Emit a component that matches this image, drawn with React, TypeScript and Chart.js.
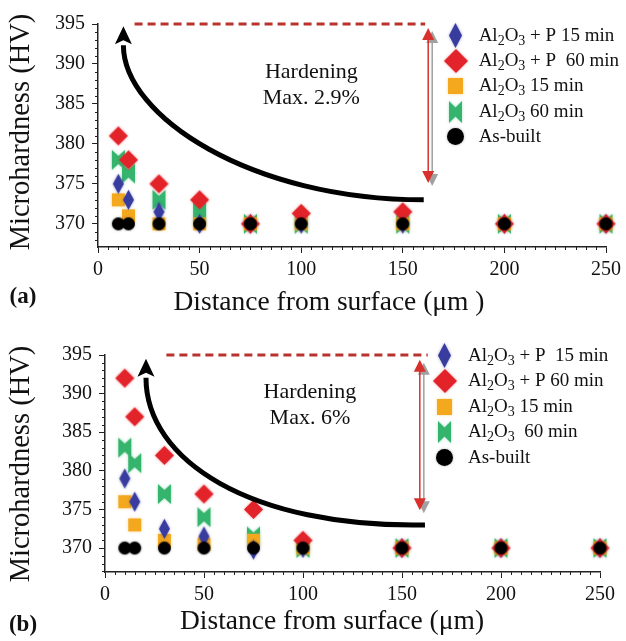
import React, { useEffect, useRef } from "react";
import { Chart, registerables } from "chart.js";

Chart.register(...registerables);

const FONT = '"Liberation Serif", "Times New Roman", serif';

// ---------- data ----------
const distances = [10, 15, 30, 50, 75, 100, 150, 200, 250];
const xTickValues = [0, 50, 100, 150, 200, 250];
const yTickValues = [370, 375, 380, 385, 390, 395];

// panel (a)
const aP15 = [375, 373, 371.5, 370, 370, 370, 370, 370, 370];
const aP60 = [381, 378, 375, 373, 370, 371.3, 371.5, 370, 370];
const a15 = [373, 371, 370, 370, 370, 370, 370, 370, 370];
const a60 = [378, 376.3, 373, 371.5, 370, 370, 370, 370, 370];
const aBuilt = [370, 370, 370, 370, 370, 370, 370, 370, 370];

// panel (b)
const bP15 = [379, 376, 372.5, 371.5, 369.8, 370, 370, 370, 370];
const bP60 = [392, 387, 382, 377, 375, 371, 370, 370, 370];
const b15 = [376, 373, 371, 370.5, 371, 370, 370, 370, 370];
const b60 = [383, 381, 377, 374, 371.5, 370, 370, 370, 370];
const bBuilt = [370, 370, 370, 370, 370, 370, 370, 370, 370];

// legend labels ("_" marks a subscript character)
const legendA = ["Al_2O_3 + P 15 min", "Al_2O_3 + P  60 min", "Al_2O_3 15 min", "Al_2O_3 60 min", "As-built"];
const legendB = ["Al_2O_3 + P  15 min", "Al_2O_3 + P 60 min", "Al_2O_3 15 min", "Al_2O_3  60 min", "As-built"];

const yTitle = "Microhardness (HV)";
const xTitleA = "Distance from surface (\u03bcm )";
const xTitleB = "Distance from surface (\u03bcm)";
const noteA = ["Hardening", "Max. 2.9%"];
const noteB = ["Hardening", "Max. 6%"];

// ---------- styles ----------
const COLORS = {
  blue: "#373c9e",
  red: "#e2232a",
  orange: "#f4a81e",
  green: "#34b46c",
  black: "#000000",
};
const GLOW = {
  blue: "rgba(55,60,158,0.45)",
  red: "rgba(226,35,42,0.45)",
  orange: "rgba(244,168,30,0.45)",
  green: "rgba(52,180,108,0.45)",
  black: "rgba(0,0,0,0.3)",
};

type Kind = "blue" | "red" | "orange" | "green" | "black";
const kinds: Kind[] = ["blue", "red", "orange", "green", "black"];
const drawOrder: Record<Kind, number> = { black: 0, red: 1, blue: 2, orange: 3, green: 4 };

function makeMarker(kind: Kind, big: boolean): HTMLCanvasElement {
  const c = document.createElement("canvas");
  let w = 12, h = 12;
  if (kind === "blue") { w = big ? 13 : 11; h = big ? 25 : 20; }
  if (kind === "red") { w = big ? 24 : 19; h = big ? 24 : 19; }
  if (kind === "orange") { w = big ? 15 : 13; h = big ? 16 : 13; }
  if (kind === "green") { w = big ? 13 : 13; h = big ? 22 : 20; }
  if (kind === "black") { w = big ? 17 : 13; h = big ? 17 : 13; }
  const pad = 3;
  c.width = w + 2 * pad; c.height = h + 2 * pad;
  const g = c.getContext("2d")!;
  g.translate(pad, pad);
  g.fillStyle = COLORS[kind];
  g.shadowColor = GLOW[kind];
  g.shadowBlur = 3;
  g.beginPath();
  if (kind === "blue" || kind === "red") {
    g.moveTo(w / 2, 0); g.lineTo(w, h / 2); g.lineTo(w / 2, h); g.lineTo(0, h / 2);
  } else if (kind === "orange") {
    g.rect(0, 0, w, h);
  } else if (kind === "green") {
    const n = h * 0.3;
    g.moveTo(0, 0); g.lineTo(w / 2, n); g.lineTo(w, 0); g.lineTo(w, h); g.lineTo(w / 2, h - n); g.lineTo(0, h);
  } else {
    g.arc(w / 2, h / 2, w / 2, 0, Math.PI * 2);
  }
  g.closePath();
  g.fill();
  return c;
}

type PanelCfg = {
  series: number[][];
  legend: string[];
  xTitle: string;
  note: string[];
  tag: string;
  yMin: number;
  layout: { padTop: number; padRight: number; xHeight: number; yWidth: number };
  dash: { x1: number; x2: number; y: number };
  vArrow: { x: number; yTop: number; yBottom: number };
  curve: number[][];
  notePos: { x: number; y1: number; y2: number };
  legendPos: { x: number; y: number; dy: number; dx: number };
  yTitlePos: { x: number; y: number };
  xTitlePos: { x: number; y: number };
  tagPos: { x: number; y: number };
};

const panelA: PanelCfg = {
  series: [aP15, aP60, a15, a60, aBuilt],
  legend: legendA,
  xTitle: xTitleA,
  note: noteA,
  tag: "(a)",
  yMin: 367.1,
  layout: { padTop: 24, padRight: 18, xHeight: 75, yWidth: 98 },
  dash: { x1: 18, x2: 161, y: 395 },
  vArrow: { x: 162.5, yTop: 394.5, yBottom: 375.1 },
  curve: [[160.3, 373], [75, 373], [12.5, 383.5], [12.5, 392.6]],
  notePos: { x: 105, y1: 389, y2: 385.75 },
  legendPos: { x: 176, y: 393.5, dy: 25.2, dx: 23 },
  yTitlePos: { x: 22, y: 132 },
  xTitlePos: { x: 329, y: 303 },
  tagPos: { x: 23, y: 297 },
};

const panelB: PanelCfg = {
  series: [bP15, bP60, b15, b60, bBuilt],
  legend: legendB,
  xTitle: xTitleB,
  note: noteB,
  tag: "(b)",
  yMin: 366.9,
  layout: { padTop: 33, padRight: 26, xHeight: 69, yWidth: 105 },
  dash: { x1: 31, x2: 163, y: 395 },
  vArrow: { x: 159, yTop: 394.4, yBottom: 374.9 },
  curve: [[161.6, 373], [73.2, 372.6], [20.7, 381.4], [20.7, 392.3]],
  notePos: { x: 103.5, y1: 390.2, y2: 386.8 },
  legendPos: { x: 171.7, y: 394.9, dy: 25.5, dx: 23 },
  yTitlePos: { x: 22, y: 142 },
  xTitlePos: { x: 332, y: 300 },
  tagPos: { x: 23, y: 303 },
};

function drawRich(ctx: CanvasRenderingContext2D, text: string, x: number, y: number, size: number) {
  let cx = x;
  let run = "";
  const flush = () => {
    if (!run) return;
    ctx.font = `${size}px ${FONT}`;
    ctx.fillText(run, cx, y);
    cx += ctx.measureText(run).width;
    run = "";
  };
  for (let i = 0; i < text.length; i++) {
    const ch = text[i];
    if (ch === "_" && i + 1 < text.length) {
      flush();
      const s = text[++i];
      const ss = Math.round(size * 0.72);
      ctx.font = `${ss}px ${FONT}`;
      ctx.fillText(s, cx, y + size * 0.28);
      cx += ctx.measureText(s).width;
    } else {
      run += ch;
    }
  }
  flush();
}

function makeDecor(cfg: PanelCfg, legendMarkers: Record<Kind, HTMLCanvasElement>) {
  return {
    id: "decor",
    afterDatasetsDraw(chart: any) {
      const { ctx, chartArea: a } = chart;
      const xs = chart.scales.x;
      const ys = chart.scales.y;
      const px = (v: number) => xs.getPixelForValue(v);
      const py = (v: number) => ys.getPixelForValue(v);
      ctx.save();

      // minor ticks
      ctx.strokeStyle = "#222";
      ctx.lineWidth = 1;
      ctx.beginPath();
      for (let v = Math.ceil(ys.min); v <= ys.max; v++) {
        if (v % 5 === 0) continue;
        const yy = Math.round(py(v)) + 0.5;
        ctx.moveTo(a.left - 3, yy);
        ctx.lineTo(a.left, yy);
      }
      for (let v = 0; v <= xs.max; v += 5) {
        if (v % 50 === 0) continue;
        const xx = Math.round(px(v)) + 0.5;
        ctx.moveTo(xx, a.bottom);
        ctx.lineTo(xx, a.bottom + 3);
      }
      ctx.stroke();

      // dashed reference line
      ctx.strokeStyle = "#b8332d";
      ctx.lineWidth = 3;
      ctx.setLineDash([8, 5]);
      ctx.beginPath();
      ctx.moveTo(px(cfg.dash.x1), py(cfg.dash.y));
      ctx.lineTo(px(cfg.dash.x2), py(cfg.dash.y));
      ctx.stroke();
      ctx.setLineDash([]);

      // vertical double arrow (gray shadow + red)
      const dbl = (x: number, top: number, bot: number, color: string) => {
        ctx.strokeStyle = color;
        ctx.fillStyle = color;
        ctx.lineWidth = 1.5;
        ctx.beginPath();
        ctx.moveTo(x, top + 10);
        ctx.lineTo(x, bot - 10);
        ctx.stroke();
        ctx.beginPath();
        ctx.moveTo(x, top); ctx.lineTo(x - 6, top + 12); ctx.lineTo(x + 6, top + 12);
        ctx.closePath(); ctx.fill();
        ctx.beginPath();
        ctx.moveTo(x, bot); ctx.lineTo(x - 6, bot - 12); ctx.lineTo(x + 6, bot - 12);
        ctx.closePath(); ctx.fill();
      };
      const vx = px(cfg.vArrow.x);
      dbl(vx + 4, py(cfg.vArrow.yTop) + 3, py(cfg.vArrow.yBottom) + 3, "#a0a0a0");
      dbl(vx, py(cfg.vArrow.yTop), py(cfg.vArrow.yBottom), "#d8302c");

      // curved black arrow
      const P = cfg.curve.map(([x, y]) => [px(x), py(y)]);
      ctx.strokeStyle = "#000";
      ctx.fillStyle = "#000";
      ctx.lineWidth = 5;
      ctx.beginPath();
      ctx.moveTo(P[0][0], P[0][1]);
      ctx.bezierCurveTo(P[1][0], P[1][1], P[2][0], P[2][1], P[3][0], P[3][1] + 2);
      ctx.stroke();
      let dx = P[3][0] - P[2][0], dy = P[3][1] - P[2][1];
      const len = Math.hypot(dx, dy) || 1;
      dx /= len; dy /= len;
      const tip = [P[3][0] + dx * 17, P[3][1] + dy * 17];
      const nx = -dy, ny = dx;
      ctx.beginPath();
      ctx.moveTo(tip[0], tip[1]);
      ctx.lineTo(P[3][0] + nx * 8.5 - dx * 1, P[3][1] + ny * 8.5 - dy * 1);
      ctx.lineTo(P[3][0] + dx * 3, P[3][1] + dy * 3);
      ctx.lineTo(P[3][0] - nx * 8.5 - dx * 1, P[3][1] - ny * 8.5 - dy * 1);
      ctx.closePath();
      ctx.fill();

      // note text
      ctx.fillStyle = "#111";
      ctx.font = `22px ${FONT}`;
      ctx.textAlign = "center";
      ctx.textBaseline = "middle";
      ctx.fillText(cfg.note[0], px(cfg.notePos.x), py(cfg.notePos.y1));
      ctx.fillText(cfg.note[1], px(cfg.notePos.x), py(cfg.notePos.y2));

      // legend
      ctx.textAlign = "left";
      const lx = px(cfg.legendPos.x);
      const ly0 = py(cfg.legendPos.y);
      cfg.legend.forEach((lab, i) => {
        const k = kinds[i];
        const m = legendMarkers[k];
        const yy = ly0 + i * cfg.legendPos.dy;
        ctx.drawImage(m, Math.round(lx - m.width / 2), Math.round(yy - m.height / 2));
        ctx.fillStyle = "#111";
        drawRich(ctx, lab, lx + cfg.legendPos.dx, yy, 19);
      });

      // axis titles
      ctx.fillStyle = "#111";
      ctx.textAlign = "center";
      ctx.textBaseline = "middle";
      ctx.font = `27.5px ${FONT}`;
      ctx.fillText(cfg.xTitle, cfg.xTitlePos.x, cfg.xTitlePos.y);
      ctx.save();
      ctx.translate(cfg.yTitlePos.x, cfg.yTitlePos.y);
      ctx.rotate(-Math.PI / 2);
      ctx.font = `28.5px ${FONT}`;
      ctx.fillText(yTitle, 0, 0);
      ctx.restore();

      // panel tag
      ctx.font = `bold 23px ${FONT}`;
      ctx.fillText(cfg.tag, cfg.tagPos.x, cfg.tagPos.y);

      ctx.restore();
    },
  };
}

function buildConfig(cfg: PanelCfg): any {
  const small = {} as Record<Kind, HTMLCanvasElement>;
  const big = {} as Record<Kind, HTMLCanvasElement>;
  kinds.forEach((k) => {
    small[k] = makeMarker(k, false);
    big[k] = makeMarker(k, true);
  });
  const datasets = cfg.series.map((vals, i) => {
    const k = kinds[i];
    return {
      label: cfg.legend[i].replace(/_2/g, "\u2082").replace(/_3/g, "\u2083"),
      data: distances.map((d, j) => ({ x: d, y: vals[j] })),
      pointStyle: small[k],
      pointRadius: 6.5,
      backgroundColor: COLORS[k],
      borderColor: COLORS[k],
      borderWidth: 0,
      showLine: false,
      clip: false,
      order: drawOrder[k],
    };
  });
  const tickFont = { family: FONT, size: 20 };
  return {
    type: "scatter",
    data: { datasets },
    options: {
      responsive: false,
      animation: false,
      devicePixelRatio: 1,
      events: [],
      layout: { padding: { top: cfg.layout.padTop, right: cfg.layout.padRight, left: 0, bottom: 0 } },
      plugins: { legend: { display: false }, tooltip: { enabled: false } },
      scales: {
        x: {
          type: "linear",
          position: "bottom",
          min: 0,
          max: 250,
          afterBuildTicks: (s: any) => { s.ticks = xTickValues.map((v) => ({ value: v })); },
          afterFit: (s: any) => { s.height = cfg.layout.xHeight; },
          ticks: { font: tickFont, color: "#111", padding: 5, maxRotation: 0, autoSkip: false },
          grid: { display: true, drawOnChartArea: false, drawTicks: true, tickLength: 6, color: "#222", lineWidth: 1 },
          border: { display: true, color: "#222", width: 1.5 },
        },
        y: {
          type: "linear",
          min: cfg.yMin,
          max: 395,
          afterBuildTicks: (s: any) => { s.ticks = yTickValues.map((v) => ({ value: v })); },
          afterFit: (s: any) => { s.width = cfg.layout.yWidth; },
          ticks: { font: tickFont, color: "#111", padding: 7, autoSkip: false },
          grid: { display: true, drawOnChartArea: false, drawTicks: true, tickLength: 6, color: "#222", lineWidth: 1 },
          border: { display: true, color: "#222", width: 1.5 },
        },
      },
    },
    plugins: [makeDecor(cfg, big)],
  };
}

function Panel({ cfg, top, height }: { cfg: PanelCfg; top: number; height: number }) {
  const ref = useRef<HTMLCanvasElement>(null);
  useEffect(() => {
    const chart = new Chart(ref.current as HTMLCanvasElement, buildConfig(cfg));
    return () => chart.destroy();
  }, [cfg]);
  return (
    <canvas
      ref={ref}
      width={626}
      height={height}
      style={{ position: "absolute", left: 0, top, width: 626, height }}
    />
  );
}

export default function App() {
  return (
    <div style={{ position: "absolute", left: 0, top: 0, width: 626, height: 641, background: "#fff", overflow: "hidden" }}>
      <Panel cfg={panelA} top={0} height={322} />
      <Panel cfg={panelB} top={322} height={319} />
    </div>
  );
}
